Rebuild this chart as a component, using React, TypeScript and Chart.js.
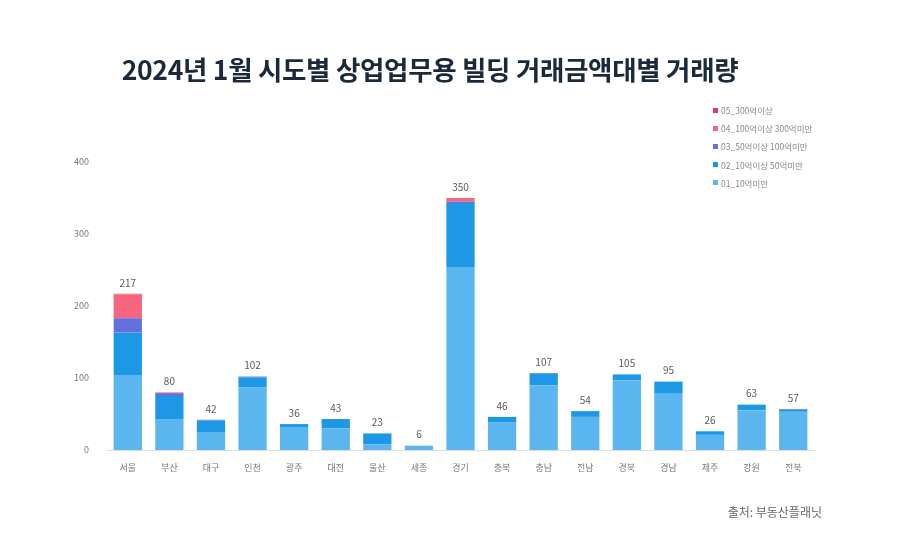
import React, { useEffect, useRef } from 'react';
import { Chart, registerables } from 'chart.js';

Chart.register(...registerables);

const regions = ['서울', '부산', '대구', '인천', '광주', '대전', '울산', '세종', '경기', '충북', '충남', '전남', '경북', '경남', '제주', '강원', '전북'];

// 거래금액대별 건수
const under10 = [104, 43, 25, 87, 32, 30, 8, 6, 254, 38, 90, 46, 97, 79, 21, 55, 53];
const from10to50 = [59, 32, 16, 14, 4, 13, 15, 0, 89, 8, 16, 8, 8, 16, 5, 8, 3];
const from50to100 = [20, 4, 1, 1, 0, 0, 0, 0, 2, 0, 1, 0, 0, 0, 0, 0, 1];
const from100to300 = [33, 1, 0, 0, 0, 0, 0, 0, 5, 0, 0, 0, 0, 0, 0, 0, 0];
const over300 = [1, 0, 0, 0, 0, 0, 0, 0, 0, 0, 0, 0, 0, 0, 0, 0, 0];

const yTicks = [0, 100, 200, 300, 400];

const series = [
  { label: '01_10억미만', data: under10, color: '#5bb5ef' },
  { label: '02_10억이상 50억미만', data: from10to50, color: '#1c98e6' },
  { label: '03_50억이상 100억미만', data: from50to100, color: '#6470dc' },
  { label: '04_100억이상 300억미만', data: from100to300, color: '#f7657e' },
  { label: '05_300억이상', data: over300, color: '#d63e66' },
];

const FONT = '"Noto Sans CJK KR", "Noto Sans", sans-serif';

const totalsPlugin = {
  id: 'totals',
  afterDatasetsDraw(chart: Chart) {
    const { ctx } = chart;
    const yScale = chart.scales.y;
    const xScale = chart.scales.x;
    ctx.save();
    ctx.font = `10px ${FONT}`;
    ctx.fillStyle = '#5a5a5a';
    ctx.textAlign = 'center';
    ctx.textBaseline = 'bottom';
    regions.forEach((_, i) => {
      const total = series.reduce((s, d) => s + d.data[i], 0);
      ctx.fillText(String(total), xScale.getPixelForValue(i), yScale.getPixelForValue(total) - 6);
    });
    ctx.restore();
  },
};

const App: React.FC = () => {
  const canvasRef = useRef<HTMLCanvasElement>(null);

  useEffect(() => {
    document.body.style.margin = '0';
    if (!canvasRef.current) return;
    const ctx = canvasRef.current.getContext('2d');
    if (!ctx) return;
    const chart = new Chart(ctx, {
      type: 'bar',
      data: {
        labels: regions,
        datasets: series.map(s => ({
          label: s.label,
          data: s.data,
          backgroundColor: s.color,
          borderWidth: 0,
          categoryPercentage: 1,
          barPercentage: 0.68,
        })),
      },
      options: {
        animation: false,
        responsive: false,
        layout: { padding: { top: 162, right: 86, bottom: 65, left: 0 } },
        plugins: {
          legend: { display: false },
          tooltip: { enabled: false },
        },
        scales: {
          x: {
            stacked: true,
            grid: { display: false },
            border: { color: '#dddddd' },
            ticks: { color: '#777', font: { family: FONT, size: 9 }, padding: 4 },
            afterFit: (scale: any) => { scale.height = 30; },
          },
          y: {
            stacked: true,
            min: 0,
            max: 400,
            afterBuildTicks: (scale: any) => { scale.ticks = yTicks.map(v => ({ value: v })); },
            grid: { display: false },
            border: { display: false },
            ticks: { color: '#777', font: { family: FONT, size: 9 }, padding: 10 },
            afterFit: (scale: any) => { scale.width = 107; },
          },
        },
      },
      plugins: [totalsPlugin],
    });
    return () => chart.destroy();
  }, []);

  return (
    <div style={{ position: 'relative', width: 900, height: 545, background: '#fff', fontFamily: FONT, overflow: 'hidden' }}>
      <canvas ref={canvasRef} width={900} height={545} style={{ position: 'absolute', left: 0, top: 0 }} />
      <div style={{ position: 'absolute', left: 0, width: 860, top: 49, textAlign: 'center', fontSize: 26.5, fontWeight: 700, color: '#1b2a3b', letterSpacing: -0.3 }}>
        2024년 1월 시도별 상업업무용 빌딩 거래금액대별 거래량
      </div>
      <div style={{ position: 'absolute', left: 713, top: 101 }}>
        {[...series].reverse().map(s => (
          <div key={s.label} style={{ display: 'flex', alignItems: 'center', height: 18.2, fontSize: 8.5, color: '#888' }}>
            <span style={{ width: 5, height: 5, background: s.color, marginRight: 3 }} />
            {s.label}
          </div>
        ))}
      </div>
      <div style={{ position: 'absolute', right: 78, top: 503, fontSize: 12, color: '#666' }}>출처: 부동산플래닛</div>
    </div>
  );
};

export default App;
